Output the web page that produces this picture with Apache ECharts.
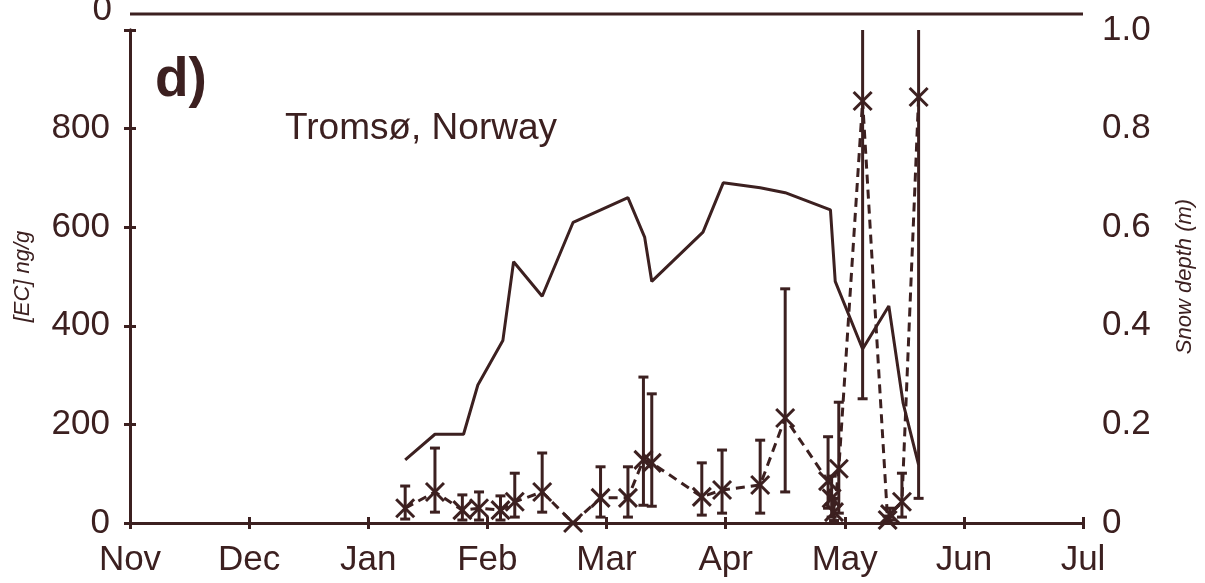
<!DOCTYPE html>
<html><head><meta charset="utf-8">
<script src="https://cdn.jsdelivr.net/npm/echarts@6/dist/echarts.min.js"></script>
<style>html,body{margin:0;padding:0;background:#fff}#c{width:1205px;height:583px}</style>
</head><body><div id="c"></div>
<script>
// x positions are in months since 1 Nov (0 = Nov, 8 = Jul)
const monthLabels = ['Nov','Dec','Jan','Feb','Mar','Apr','May','Jun','Jul'];

// EC concentration (ng/g) with error bar limits
const ecX    = [2.31, 2.56, 2.79, 2.93, 3.11, 3.23, 3.46, 3.72, 3.95, 4.18, 4.31, 4.38, 4.80, 4.97, 5.29, 5.50, 5.86, 5.89, 5.91, 5.95, 6.15, 6.36, 6.38, 6.48, 6.62];
const ecVal  = [30,   63,   26,   30,   26,   43,   63,   0,    51,   51,   128,  122,  53,   67,   77,   213,  85,   50,   22,   110,  856,  6,    18,   43,   864];
const ecLow  = [8,    22,   6,    6,    6,    12,   22,   0,    12,   12,   36,   34,   16,   20,   20,   63,   30,   12,   5,    20,   252,  2,    6,    12,   50];
const ecHigh = [75,   152,  57,   63,   55,   101,  142,  0,    114,  114,  296,  262,  122,  148,  168,  475,  175,  95,   50,   245,  1100, 14,   30,   101,  1100];

// Snow depth (m)
const snowX     = [2.31, 2.56, 2.80, 2.92, 3.13, 3.22, 3.46, 3.72, 4.18, 4.32, 4.38, 4.81, 4.98, 5.29, 5.50, 5.88, 5.92, 6.15, 6.37, 6.49, 6.62];
const snowDepth = [0.128,0.18, 0.18, 0.28, 0.37, 0.53, 0.46, 0.61, 0.66, 0.58, 0.49, 0.59, 0.69, 0.68, 0.67, 0.635,0.49, 0.353,0.44, 0.243,0.118];

const C = '#3c2020';
const FONT = '"Liberation Sans", Arial, Helvetica, sans-serif';

const ecLine = ecX.map((x, i) => [x, ecVal[i]]);
const ecBars = ecX.map((x, i) => [x, ecLow[i], ecHigh[i]]);
const snowLine = snowX.map((x, i) => [x, snowDepth[i]]);

const chart = echarts.init(document.getElementById('c'), null, {renderer: 'canvas'});

const axisCommon = {
  axisLine: {show: true, lineStyle: {color: C, width: 3}},
  axisTick: {show: true, inside: true, length: 6, lineStyle: {color: C, width: 3}},
  splitLine: {show: false}
};

chart.setOption({
  animation: false,
  backgroundColor: '#fff',
  grid: {left: 130, right: 122, top: 30, bottom: 60, containLabel: false},
  title: [
    {text: 'd)', left: 150, top: 48, textStyle: {fontFamily: FONT, fontSize: 55, fontWeight: 'bold', color: C}},
    {text: 'Tromsø, Norway', left: 280, top: 105, textStyle: {fontFamily: FONT, fontSize: 37, fontWeight: 'normal', color: C}}
  ],
  xAxis: [
    Object.assign({}, axisCommon, {
      type: 'value', min: 0, max: 8, interval: 1, position: 'bottom',
      axisLabel: {color: C, fontFamily: FONT, fontSize: 35, margin: 20,
        formatter: v => monthLabels[Math.round(v)] || ''}
    }),
    Object.assign({}, axisCommon, {
      type: 'value', min: 0, max: 8, interval: 1, position: 'top',
      axisLabel: {show: false}
    })
  ],
  yAxis: [
    Object.assign({}, axisCommon, {
      type: 'value', min: 0, max: 1000, interval: 200, position: 'left',
      name: '[EC] ng/g', nameLocation: 'middle', nameRotate: 90, nameGap: 96,
      nameTextStyle: {fontFamily: FONT, fontSize: 22, fontStyle: 'italic', color: C},
      axisLabel: {color: C, fontFamily: FONT, fontSize: 35, margin: 20,
        formatter: v => v === 1000 ? '' : String(v)}
    }),
    Object.assign({}, axisCommon, {
      type: 'value', min: 0, max: 1, interval: 0.2, position: 'right',
      name: 'Snow depth (m)', nameLocation: 'middle', nameRotate: 90, nameGap: 91,
      nameTextStyle: {fontFamily: FONT, fontSize: 22, fontStyle: 'italic', color: C},
      axisLabel: {color: C, fontFamily: FONT, fontSize: 35, margin: 19,
        formatter: v => v === 0 ? '0' : v.toFixed(1)}
    })
  ],
  graphic: [
    {type: 'line', shape: {x1: 130, y1: 14, x2: 1083, y2: 14}, style: {stroke: C, lineWidth: 3}},
    {type: 'text', style: {text: '0', x: 112, y: 10, align: 'right', verticalAlign: 'middle',
      font: '35px ' + FONT, fill: C}}
  ],
  series: [
    {
      name: 'Snow depth', type: 'line', xAxisIndex: 0, yAxisIndex: 1,
      data: snowLine, symbol: 'none', lineStyle: {color: C, width: 3}, z: 3
    },
    {
      name: 'EC', type: 'line', xAxisIndex: 0, yAxisIndex: 0,
      data: ecLine, symbol: 'none', lineStyle: {color: C, width: 3, type: [9, 6]}, z: 3
    },
    {
      name: 'EC error', type: 'custom', xAxisIndex: 0, yAxisIndex: 0, clip: true, z: 4,
      data: ecBars,
      renderItem: function (params, api) {
        const x = api.value(0), lo = api.value(1), hi = api.value(2);
        if (hi <= lo) return null;
        const cs = params.coordSys;
        const pLo = api.coord([x, lo]);
        const pHi = api.coord([x, hi]);
        const top = Math.max(pHi[1], cs.y);
        const bottom = Math.min(pLo[1], cs.y + cs.height);
        const capW = 5;
        const children = [
          {type: 'line', shape: {x1: pLo[0], y1: bottom, x2: pLo[0], y2: top}, style: {stroke: C, lineWidth: 3}}
        ];
        if (pLo[1] <= cs.y + cs.height) children.push({type: 'line', shape: {x1: pLo[0] - capW, y1: pLo[1], x2: pLo[0] + capW, y2: pLo[1]}, style: {stroke: C, lineWidth: 3}});
        if (pHi[1] >= cs.y) children.push({type: 'line', shape: {x1: pHi[0] - capW, y1: pHi[1], x2: pHi[0] + capW, y2: pHi[1]}, style: {stroke: C, lineWidth: 3}});
        return {type: 'group', children: children};
      }
    },
    {
      name: 'EC markers', type: 'custom', xAxisIndex: 0, yAxisIndex: 0, z: 5,
      data: ecLine,
      renderItem: function (params, api) {
        const p = api.coord([api.value(0), api.value(1)]);
        const s = 9;
        return {type: 'group', children: [
          {type: 'line', shape: {x1: p[0] - s, y1: p[1] - s, x2: p[0] + s, y2: p[1] + s}, style: {stroke: C, lineWidth: 3}},
          {type: 'line', shape: {x1: p[0] - s, y1: p[1] + s, x2: p[0] + s, y2: p[1] - s}, style: {stroke: C, lineWidth: 3}}
        ]};
      }
    }
  ]
});
</script>
</body></html>
